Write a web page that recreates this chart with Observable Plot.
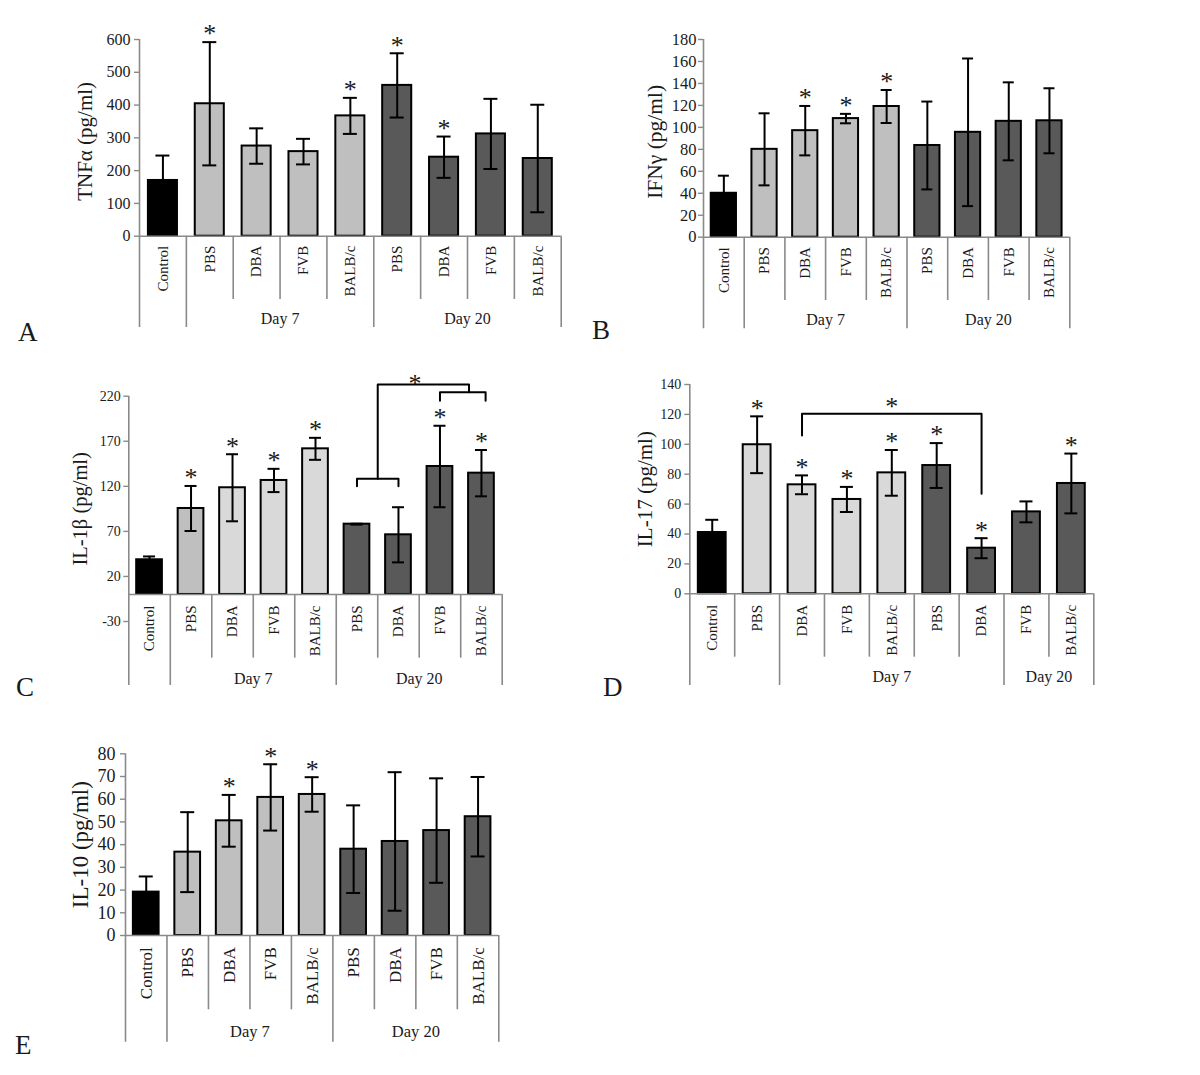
<!DOCTYPE html>
<html>
<head>
<meta charset="utf-8">
<script src="https://cdn.jsdelivr.net/npm/d3@7"></script>
<script src="https://cdn.jsdelivr.net/npm/@observablehq/plot@0.6"></script>
<style>
  body { margin: 0; background: #fff; }
  #root { position: relative; width: 1200px; height: 1075px; overflow: hidden;
          font-family: 'Liberation Serif', 'Times New Roman', serif; color: #1a1a1a; }
  .panel { position: absolute; }
  .letter { position: absolute; font-size: 27px; line-height: 1; }
</style>
</head>
<body>
<div id="root"></div>
<script>
// ---------------- DATA ----------------
const categories = ["Control", "PBS", "DBA", "FVB", "BALB/c", "PBS", "DBA", "FVB", "BALB/c"];
const seriesStd = ["Control", "Day 7", "Day 7", "Day 7", "Day 7", "Day 20", "Day 20", "Day 20", "Day 20"];
const seriesC = ["Control", "Day 7 PBS", "Day 7", "Day 7", "Day 7", "Day 20", "Day 20", "Day 20", "Day 20"];
const groupsStd = [
  {label: "", from: 0, to: 1},
  {label: "Day 7", from: 1, to: 5},
  {label: "Day 20", from: 5, to: 9}
];
const groupsD = [
  {label: "", from: 0, to: 2},
  {label: "Day 7", from: 2, to: 7},
  {label: "Day 20", from: 7, to: 9}
];

// A: TNFα
const tnfValues = [170, 404, 275, 258, 367, 460, 241, 312, 237];
const tnfErrors = [76, 188, 54, 39, 55, 98, 63, 107, 164];
const tnfStars = [1, 4, 5, 6];
const tnfTicks = [0, 100, 200, 300, 400, 500, 600];

// B: IFNγ
const ifnValues = [40, 80, 97, 108, 119, 83.5, 95.5, 105.5, 106];
const ifnErrors = [16, 32.8, 22.5, 4.3, 15, 40, 67.2, 35.5, 29.6];
const ifnStars = [2, 3, 4];
const ifnTicks = [0, 20, 40, 60, 80, 100, 120, 140, 160, 180];

// C: IL-1β
const il1bValues = [38.5, 95.4, 118.4, 126.5, 161.6, 78, 66.2, 142, 134.6];
const il1bErrors = [3.7, 25, 37.2, 12.9, 12.2, 0.5, 30.6, 45.2, 25.7];
const il1bStars = [1, 2, 3, 4, 7, 8];
const il1bTicks = [-30, 20, 70, 120, 170, 220];
const il1bBrackets = [
  [[5.5, 120], [5.5, 128.4], [6.5, 128.4], [6.5, 120]],
  [[6, 128.4], [6, 233], [8.2, 233], [8.2, 224.5]],
  [[7.5, 215], [7.5, 224.5], [8.6, 224.5], [8.6, 215]]
];
const il1bBracketStars = [[6.9, 239.6]];

// D: IL-17
const il17Values = [41, 99.7, 72.9, 63.1, 80.9, 85.8, 30.5, 54.8, 73.8];
const il17Errors = [8.5, 19, 6.3, 8.4, 15.3, 15, 6.7, 7, 20];
const il17Stars = [1, 2, 3, 4, 5, 6, 8];
const il17Ticks = [0, 20, 40, 60, 80, 100, 120, 140];
const il17Brackets = [
  [[2.5, 105.9], [2.5, 120.4], [6.5, 120.4], [6.5, 66.9]]
];
const il17BracketStars = [[4.5, 128.2]];

// E: IL-10
const il10Values = [19.1, 36.7, 50.5, 60.8, 62.1, 38, 41.4, 46.2, 52.3];
const il10Errors = [6.9, 17.6, 11.4, 14.6, 7.6, 19.3, 30.5, 23, 17.5];
const il10Stars = [2, 3, 4];
const il10Ticks = [0, 10, 20, 30, 40, 50, 60, 70, 80];

// ---------------- STYLE ----------------
const paletteStd = {"Control": "#000000", "Day 7": "#bfbfbf", "Day 20": "#595959"};
const paletteC = {"Control": "#000000", "Day 7 PBS": "#bfbfbf", "Day 7": "#d9d9d9", "Day 20": "#595959"};
const paletteD = {"Control": "#000000", "Day 7": "#d9d9d9", "Day 20": "#595959"};
const AXIS = "#8a8a8a";
const INK = "#1a1a1a";
const FONT = "'Liberation Serif', 'Times New Roman', serif";

function makePanel(cfg) {
  const n = cfg.values.length;
  const rows = cfg.values.map((v, i) => ({i, v, e: cfg.errors[i], s: cfg.series[i], c: categories[i]}));
  const bw = (cfg.frame.x2 - cfg.frame.x1) / n;
  const inset = bw * 0.19;
  const bounds = new Set(cfg.groups.flatMap(g => [g.from, g.to]));
  const longSeps = [...bounds].filter(k => k > 0);
  const shortSeps = d3.range(1, n).filter(k => !bounds.has(k));
  const caps = rows.flatMap(d => [{i: d.i, y: d.v + d.e}, {i: d.i, y: d.v - d.e}]);
  const starRows = rows.filter(d => cfg.stars.includes(d.i));
  const f = cfg.font;

  const marks = [
    // bars
    Plot.rect(rows, {x1: d => d.i, x2: d => d.i + 1, y1: () => 0, y2: "v",
      insetLeft: inset, insetRight: inset, fill: "s", stroke: "#000", strokeWidth: 2}),
    // error bars
    Plot.ruleX(rows, {x: d => d.i + 0.5, y1: d => d.v - d.e, y2: d => d.v + d.e, stroke: "#000", strokeWidth: 2}),
    Plot.ruleY(caps, {y: "y", x1: d => d.i + 0.5, x2: d => d.i + 0.5, insetLeft: -cfg.cap, insetRight: -cfg.cap,
      stroke: "#000", strokeWidth: 2}),
    // baseline
    Plot.ruleY([0], {stroke: AXIS, strokeWidth: 1.6}),
    // y axis line extending into category area
    Plot.ruleX([0], {y1: () => cfg.domain[1], y2: () => 0, insetBottom: -cfg.longLen, stroke: AXIS, strokeWidth: 1.6}),
    // separators
    Plot.ruleX(longSeps, {y1: () => 0, y2: () => 0, insetBottom: -cfg.longLen, stroke: AXIS, strokeWidth: 1.6}),
    Plot.ruleX(shortSeps, {y1: () => 0, y2: () => 0, insetBottom: -cfg.shortLen, stroke: AXIS, strokeWidth: 1.6}),
    // y ticks
    Plot.ruleY(cfg.ticks, {x1: () => 0, x2: () => 0, insetLeft: -5, stroke: AXIS, strokeWidth: 1.4}),
    Plot.axisY({ticks: cfg.ticks, tickSize: 0, tickPadding: cfg.tickPad, fontSize: f.tick,
      tickFormat: d => String(d), label: null, fill: INK}),
    // category labels
    Plot.text(rows, {x: d => d.i + 0.5, y: () => 0, text: "c", rotate: -90, textAnchor: "end",
      lineAnchor: "middle", dy: cfg.catDy, fontSize: f.cat, fill: INK}),
    // group labels
    Plot.text(cfg.groups.filter(g => g.label), {x: g => (g.from + g.to) / 2, y: () => 0, text: "label",
      dy: cfg.dayDy, lineAnchor: "middle", fontSize: f.day, fill: INK}),
    // y title
    Plot.text([cfg.title], {frameAnchor: "left", dx: cfg.titleX - cfg.frame.x1, dy: cfg.titleDy || 0,
      rotate: -90, textAnchor: "middle", lineAnchor: "middle", fontSize: f.title, fill: INK}),
    // significance stars
    Plot.text(starRows, {x: d => d.i + 0.5, y: d => d.v + d.e, text: () => "*", dy: -8,
      lineAnchor: "middle", fontSize: 26, fill: INK})
  ];
  if (cfg.brackets) {
    cfg.brackets.forEach(path => {
      marks.push(Plot.line(path, {x: p => p[0], y: p => p[1], stroke: "#000", strokeWidth: 2,
        strokeLinejoin: "round"}));
    });
    marks.push(Plot.text(cfg.bracketStars, {x: p => p[0], y: p => p[1], text: () => "*", dy: 5,
      lineAnchor: "middle", fontSize: 26, fill: INK}));
  }

  const plot = Plot.plot({
    width: cfg.box.w, height: cfg.box.h,
    marginLeft: cfg.frame.x1 - cfg.box.x,
    marginRight: cfg.box.x + cfg.box.w - cfg.frame.x2,
    marginTop: cfg.frame.y1 - cfg.box.y,
    marginBottom: cfg.box.y + cfg.box.h - cfg.frame.y2,
    x: {type: "linear", domain: [0, n], axis: null},
    y: {type: "linear", domain: cfg.domain, axis: null},
    color: {domain: Object.keys(cfg.palette), range: Object.values(cfg.palette)},
    style: {fontFamily: FONT, color: INK, background: "transparent", overflow: "visible"},
    marks
  });
  const wrap = document.createElement("div");
  wrap.className = "panel";
  wrap.style.left = cfg.box.x + "px";
  wrap.style.top = cfg.box.y + "px";
  wrap.appendChild(plot);
  document.getElementById("root").appendChild(wrap);

  const letter = document.createElement("div");
  letter.className = "letter";
  letter.textContent = cfg.letter.text;
  letter.style.left = cfg.letter.x + "px";
  letter.style.top = (cfg.letter.baseline - 22.6) + "px";
  document.getElementById("root").appendChild(letter);
}

makePanel({
  values: tnfValues, errors: tnfErrors, stars: tnfStars, ticks: tnfTicks, domain: [0, 600],
  series: seriesStd, palette: paletteStd, groups: groupsStd, title: "TNFα (pg/ml)",
  box: {x: 0, y: 0, w: 590, h: 345}, frame: {x1: 139, x2: 560.7, y1: 39, y2: 235.7},
  font: {tick: 16, cat: 15, day: 16, title: 21}, titleX: 85, titleDy: 3.5, cap: 7,
  longLen: 91.3, shortLen: 63.3, catDy: 9.5, dayDy: 82.6, tickPad: 9,
  letter: {text: "A", x: 18, baseline: 342}
});
makePanel({
  values: ifnValues, errors: ifnErrors, stars: ifnStars, ticks: ifnTicks, domain: [0, 180],
  series: seriesStd, palette: paletteStd, groups: groupsStd, title: "IFNγ (pg/ml)",
  box: {x: 590, y: 0, w: 610, h: 345}, frame: {x1: 703, x2: 1069.3, y1: 39, y2: 236.7},
  font: {tick: 16.5, cat: 15, day: 16, title: 21.5}, titleX: 655, titleDy: 3.5, cap: 5.5,
  longLen: 91.6, shortLen: 63.3, catDy: 10, dayDy: 82.6, tickPad: 7,
  letter: {text: "B", x: 592, baseline: 340}
});
makePanel({
  values: il1bValues, errors: il1bErrors, stars: il1bStars, ticks: il1bTicks, domain: [-30, 220],
  series: seriesC, palette: paletteC, groups: groupsStd, title: "IL-1β (pg/ml)",
  box: {x: 0, y: 355, w: 590, h: 350}, frame: {x1: 128.3, x2: 501.7, y1: 395.7, y2: 621},
  font: {tick: 14, cat: 15, day: 16, title: 20.5}, titleX: 80, cap: 6,
  longLen: 91, shortLen: 63.7, catDy: 11, dayDy: 84, tickPad: 8,
  brackets: il1bBrackets, bracketStars: il1bBracketStars,
  letter: {text: "C", x: 16, baseline: 697}
});
makePanel({
  values: il17Values, errors: il17Errors, stars: il17Stars, ticks: il17Ticks, domain: [0, 140],
  series: seriesStd, palette: paletteD, groups: groupsD, title: "IL-17 (pg/ml)",
  box: {x: 590, y: 355, w: 610, h: 350}, frame: {x1: 689.3, x2: 1093.3, y1: 384, y2: 593.3},
  font: {tick: 14, cat: 15, day: 16, title: 21}, titleX: 645, cap: 6.5,
  longLen: 91.7, shortLen: 63.4, catDy: 11, dayDy: 83.3, tickPad: 8.6,
  brackets: il17Brackets, bracketStars: il17BracketStars,
  letter: {text: "D", x: 603, baseline: 697}
});
makePanel({
  values: il10Values, errors: il10Errors, stars: il10Stars, ticks: il10Ticks, domain: [0, 80],
  series: seriesStd, palette: paletteStd, groups: groupsStd, title: "IL-10 (pg/ml)",
  box: {x: 0, y: 735, w: 590, h: 340}, frame: {x1: 125, x2: 498.3, y1: 753.3, y2: 935},
  font: {tick: 18, cat: 17, day: 16.5, title: 23}, titleX: 80, cap: 7,
  longLen: 106.7, shortLen: 74.3, catDy: 11.7, dayDy: 96.7, tickPad: 10,
  letter: {text: "E", x: 15, baseline: 1055}
});
</script>
</body>
</html>
